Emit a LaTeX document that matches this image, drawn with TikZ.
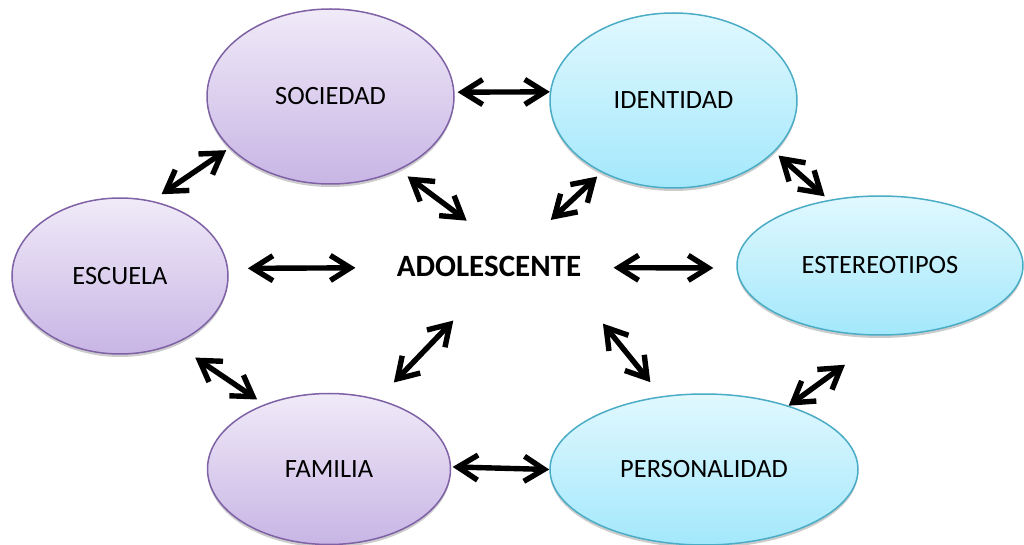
\documentclass[tikz,border=0pt]{standalone}
\usepackage{fontspec}
\setmainfont{Carlito}
\usetikzlibrary{arrows.meta, shapes.geometric, shadows}
\definecolor{lilaborde}{HTML}{7F62A6}
\definecolor{lilaarriba}{HTML}{F0EAF8}
\definecolor{lilaabajo}{HTML}{C8B5E5}
\definecolor{celesteborde}{HTML}{4BACC6}
\definecolor{celestearriba}{HTML}{E1F8FE}
\definecolor{celesteabajo}{HTML}{A3E8FC}
\tikzset{
  burbuja/.style={ellipse, inner sep=0pt, line width=0.75pt,
    font=\fontsize{13.2}{16}\selectfont,
    drop shadow={shadow xshift=0pt, shadow yshift=-1.5pt, opacity=0.2, fill=black}},
  lila/.style={burbuja, draw=lilaborde, top color=lilaarriba, bottom color=lilaabajo},
  celeste/.style={burbuja, draw=celesteborde, top color=celestearriba, bottom color=celesteabajo}
}

\begin{document}
\begin{tikzpicture}[x=0.5pt,y=-0.5pt,>={Straight Barb[length=10pt,width=12.5pt]},
                flecha/.style={<->,line width=2.7pt,black}]
                \useasboundingbox (0,0) rectangle (1024,545);
                % elipses
                \node[lila,minimum width=123.5pt,minimum height=87.5pt] (soc) at (330.5,96.5) {SOCIEDAD};
                \node[celeste,minimum width=123.5pt,minimum height=87.5pt] (ide) at (673.5,100.5) {IDENTIDAD};
                \node[celeste,minimum width=143pt,minimum height=69.5pt] (est) at (880,265.5) {ESTEREOTIPOS};
                \node[lila,minimum width=108pt,minimum height=78pt] (esc) at (120,276) {ESCUELA};
                \node[lila,minimum width=121.5pt,minimum height=75.5pt] (fam) at (329,469) {FAMILIA};
                \node[celeste,minimum width=154pt,minimum height=75.5pt] (pers) at (704,469.5) {PERSONALIDAD};
                \node[inner sep=0pt,font=\fontsize{15.5}{18}\selectfont\bfseries] (adol) at (489,266) {ADOLESCENTE};
                % flechas
                \draw[flecha,shorten <=1.5pt] (soc.2) -- (ide.176);
                \draw[flecha,shorten <=2pt,shorten >=5.8pt] (soc.207) -- (esc.67);
                \draw[flecha,shorten <=2.7pt,shorten >=2.7pt] (ide.333) -- (est.128);
                \draw[flecha,shorten <=5.3pt,shorten >=28.9pt] (soc.313) -- (adol.24);
                \draw[flecha,shorten <=3pt,shorten >=25.9pt] (ide.225) -- (adol.24);
                \draw[flecha,shorten <=9.8pt,shorten >=20.5pt] (esc.4) -- (adol.181);
                \draw[flecha,shorten <=16pt,shorten >=11.5pt] (adol.359) -- (est.181);
                \draw[flecha,shorten <=30.4pt,shorten >=11.5pt] (adol.301) -- (fam.55);
                \draw[flecha,shorten <=30.2pt,shorten >=9pt] (adol.352) -- (pers.120);
                \draw[flecha,shorten <=12.2pt,shorten >=4.3pt] (esc.309) -- (fam.135);
                \draw[flecha,shorten <=0.75pt] (fam.1) -- (pers.180);
                \draw[flecha,shorten <=24.7pt] (est.274) -- (pers.37);
            \end{tikzpicture}
\end{document}
